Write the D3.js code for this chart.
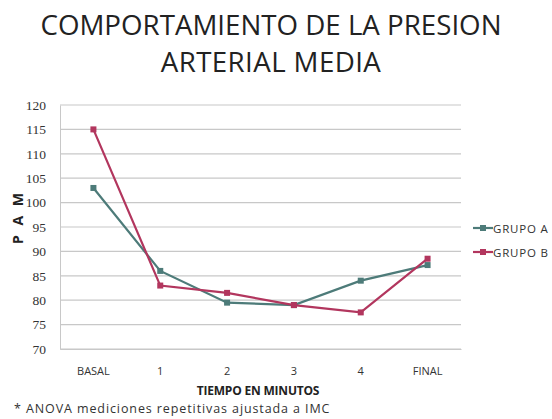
<!DOCTYPE html>
<html>
<head>
<meta charset="utf-8">
<script src="https://cdn.jsdelivr.net/npm/d3@7"></script>
<style>
  html, body { margin: 0; padding: 0; background: #fff; }
  svg { display: block; font-family: "Open Sans", "Liberation Sans", sans-serif; }
</style>
</head>
<body>
<svg id="chart" width="552" height="419"></svg>
<script>
// Mean arterial pressure by time point, two groups
const categories = ["BASAL", "1", "2", "3", "4", "FINAL"];
const grupoA = [103, 86, 79.5, 79, 84, 87.2];
const grupoB = [115, 83, 81.5, 79, 77.5, 88.5];
const seriesNames = ["GRUPO A", "GRUPO B"];
const yTicks = [70, 75, 80, 85, 90, 95, 100, 105, 110, 115, 120];

const colors = ["#4d7b79", "#b2365e"];
const seriesValues = [grupoA, grupoB];

const svg = d3.select("#chart");
const W = 552, H = 419;
const plot = { left: 60, right: 461, top: 105, bottom: 349 };

const x = d3.scaleBand().domain(categories).range([plot.left, plot.right]);
const y = d3.scaleLinear().domain([70, 120]).range([plot.bottom, plot.top]);

// Title
const title = svg.append("g").attr("font-size", 27.7).attr("fill", "#222").attr("text-anchor", "middle");
title.append("text").attr("x", 271).attr("y", 35).text("COMPORTAMIENTO DE LA PRESION");
title.append("text").attr("x", 271).attr("y", 72).attr("letter-spacing", 0.4).text("ARTERIAL MEDIA");

// Horizontal gridlines
svg.append("g")
  .selectAll("line")
  .data(yTicks)
  .join("line")
  .attr("x1", plot.left).attr("x2", plot.right)
  .attr("y1", d => y(d)).attr("y2", d => y(d))
  .attr("stroke", "#c8c8c8").attr("stroke-width", 1.2);

// Y axis
const yAxis = svg.append("g")
  .attr("transform", `translate(${plot.left},0)`)
  .call(d3.axisLeft(y).tickValues(yTicks).tickSize(0).tickPadding(14));
yAxis.attr("font-family", "'Liberation Serif', serif").attr("font-size", 13.5);
yAxis.select(".domain").attr("stroke", "#c8c8c8");
yAxis.selectAll("text").attr("fill", "#333");

// X axis
const xAxis = svg.append("g")
  .attr("transform", `translate(0,${plot.bottom})`)
  .call(d3.axisBottom(x).tickSize(0).tickPadding(18));
xAxis.attr("font-family", "'Open Sans', sans-serif").attr("font-size", 11);
xAxis.select(".domain").attr("stroke", "#c8c8c8");
xAxis.selectAll("text").attr("fill", "#333");

// Axis titles
svg.append("text")
  .attr("transform", `translate(23,217) rotate(-90)`)
  .attr("text-anchor", "middle")
  .attr("font-size", 14).attr("font-weight", "bold").attr("fill", "#222")
  .attr("letter-spacing", 3)
  .text("P  A  M");
svg.append("text")
  .attr("x", 258).attr("y", 395)
  .attr("text-anchor", "middle")
  .attr("font-size", 12).attr("font-weight", "bold").attr("fill", "#222")
  .attr("letter-spacing", -0.2)
  .text("TIEMPO EN MINUTOS");

// Footnote
svg.append("text")
  .attr("x", 14).attr("y", 413)
  .attr("font-size", 12.5).attr("fill", "#333")
  .attr("letter-spacing", 0.9)
  .text("* ANOVA mediciones repetitivas ajustada a IMC");

// Lines and markers
const line = d3.line()
  .x((d, i) => x(categories[i]) + x.bandwidth() / 2)
  .y(d => y(d));

seriesValues.forEach((vals, s) => {
  svg.append("path")
    .datum(vals)
    .attr("fill", "none")
    .attr("stroke", colors[s])
    .attr("stroke-width", 2.2)
    .attr("d", line);
  svg.append("g")
    .selectAll("rect")
    .data(vals)
    .join("rect")
    .attr("x", (d, i) => x(categories[i]) + x.bandwidth() / 2 - 3)
    .attr("y", d => y(d) - 3)
    .attr("width", 6).attr("height", 6)
    .attr("fill", colors[s]);
});

// Legend
const legend = svg.append("g");
seriesNames.forEach((name, s) => {
  const ly = 228 + s * 24;
  legend.append("line")
    .attr("x1", 473).attr("x2", 493).attr("y1", ly).attr("y2", ly)
    .attr("stroke", colors[s]).attr("stroke-width", 2.2);
  legend.append("rect")
    .attr("x", 480).attr("y", ly - 3).attr("width", 6).attr("height", 6)
    .attr("fill", colors[s]);
  legend.append("text")
    .attr("x", 493).attr("y", ly + 4.5)
    .attr("font-size", 11.5).attr("fill", "#333")
    .attr("letter-spacing", 0.8)
    .text(name);
});
</script>
</body>
</html>
